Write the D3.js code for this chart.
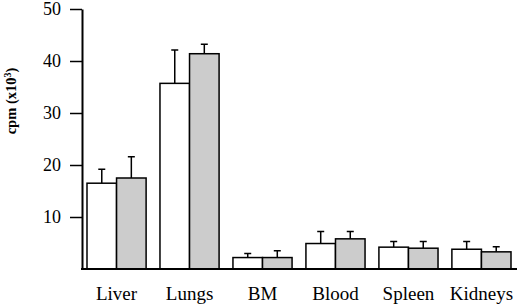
<!DOCTYPE html>
<html><head><meta charset="utf-8">
<script src="https://cdn.jsdelivr.net/npm/d3@7"></script>
<style>body{margin:0;background:#fff}svg{display:block}</style>
</head><body>
<script>
const categories = ["Liver","Lungs","BM","Blood","Spleen","Kidneys"];
const seriesA = [16.5, 35.7, 2.2, 4.9, 4.2, 3.8];   // white bars
const errA    = [2.7, 6.4, 0.8, 2.3, 1.1, 1.5];
const seriesB = [17.5, 41.4, 2.2, 5.8, 4.0, 3.3];   // grey bars
const errB    = [4.1, 1.8, 1.3, 1.4, 1.3, 1.0];
const yTicks = [10,20,30,40,50];

const W=520,H=308;
const svg=d3.select("body").append("svg").attr("width",W).attr("height",H);
const x0=82, base=269;
const serif="Liberation Serif, Times New Roman, serif";
const y=d3.scaleLinear().domain([0,50]).range([base,9]);
const x=d3.scaleBand().domain(categories).range([79.7,518.3]).paddingInner(0.19).paddingOuter(0.1);
const xs=d3.scaleBand().domain(["A","B"]).range([0,x.bandwidth()]);

const data=categories.map((c,i)=>({c,vals:[{k:"A",v:seriesA[i],e:errA[i]},{k:"B",v:seriesB[i],e:errB[i]}]}));
const g=svg.append("g");
const groups=g.selectAll("g.grp").data(data).join("g").attr("transform",d=>`translate(${x(d.c)},0)`);
groups.selectAll("path.err").data(d=>d.vals).join("path")
  .attr("d",d=>{const cx=xs(d.k)+xs.bandwidth()/2;const t=y(d.v+d.e);return `M${cx},${y(d.v)}V${t}M${cx-3.5},${t}H${cx+3.5}`;})
  .attr("stroke","#000").attr("stroke-width",1.5).attr("fill","none");
groups.selectAll("rect").data(d=>d.vals).join("rect")
  .attr("x",d=>xs(d.k)).attr("width",xs.bandwidth())
  .attr("y",d=>y(d.v)).attr("height",d=>base-y(d.v))
  .attr("fill",d=>d.k==="A"?"#fff":"#cccccc").attr("stroke","#000").attr("stroke-width",1.5);

const ya=svg.append("g").attr("transform",`translate(${x0},0)`)
  .call(d3.axisLeft(y).tickValues(yTicks).tickSize(12).tickPadding(9).tickSizeOuter(0));
ya.select(".domain").attr("stroke-width",2);
ya.selectAll(".tick line").attr("stroke-width",1.5);
ya.selectAll("text").attr("font-family",serif).attr("font-size",18).attr("fill","#000");
svg.append("line").attr("x1",x0-1).attr("x2",517).attr("y1",base).attr("y2",base).attr("stroke","#000").attr("stroke-width",2);
const xa=svg.append("g").attr("transform",`translate(0,${base})`)
  .call(d3.axisBottom(x).tickSize(0).tickPadding(18));
xa.select(".domain").remove();
xa.selectAll("text").attr("font-family",serif).attr("font-size",19).attr("fill","#000");

svg.append("text").attr("transform","translate(16,101) rotate(-90)").attr("text-anchor","middle")
  .attr("font-family",serif).attr("font-weight","bold").attr("font-size",14.5)
  .html('cpm (x10<tspan dy="-5" font-size="10">3</tspan><tspan dy="5">)</tspan>');
</script>
</body></html>
